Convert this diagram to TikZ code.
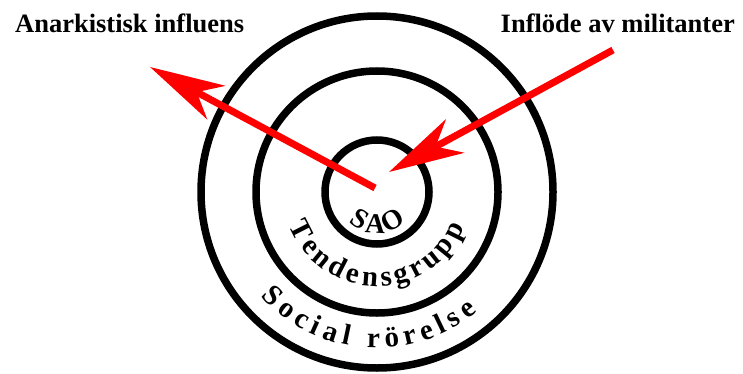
\documentclass[tikz,border=0pt]{standalone}
\usepackage{fontspec}
\setmainfont{Liberation Serif}
\usetikzlibrary{arrows.meta,decorations.text}
\begin{document}
\begin{tikzpicture}[x=1pt,y=1pt,
  ring/.style={circle,draw=black,line width=7.5pt,inner sep=0pt},
  redarrow/.style={draw=red,line width=7pt,-{Stealth[length=75pt,width=38pt,inset=22pt,fill=red]}},
  heading/.style={font=\fontsize{26.5}{30}\selectfont\bfseries,inner sep=0pt}
]
\useasboundingbox (0,0) rectangle (743,373);
\coordinate (c) at (377,181);
\node[ring,minimum size=352pt] (outer) at (c) {};
\node[ring,minimum size=242pt] (middle) at (c) {};
\node[ring,minimum size=104pt] (inner) at (c) {};

\node[heading,anchor=base west] (anark) at (15,340) {Anarkistisk influens};
\node[heading,anchor=base east] (infl) at (735,340) {Inflöde av militanter};

\coordinate (a1s) at (375,185);
\coordinate (a1e) at (150,306);
\coordinate (a2s) at (613,323);
\coordinate (a2e) at (389,201);
\draw[redarrow] (a1s) -- (a1e);
\draw[redarrow] (a2s) -- (a2e);

\path[decorate,decoration={text along path,text align=fit to path,
  text={|\fontsize{28}{32}\selectfont\bfseries|SAO}}]
  (c) ++(227:41) arc[start angle=227,end angle=315,radius=41];
\path[decorate,decoration={text along path,text align=fit to path,
  text={|\fontsize{29}{33}\selectfont\bfseries|Tendensgrupp}}]
  (c) ++(201:94) arc[start angle=201,end angle=338,radius=94];
\path[decorate,decoration={text along path,text align=fit to path,
  text={|\fontsize{29}{33}\selectfont\bfseries|Social rörelse}}]
  (c) ++(222:156) arc[start angle=222,end angle=310,radius=156];
\end{tikzpicture}
\end{document}
